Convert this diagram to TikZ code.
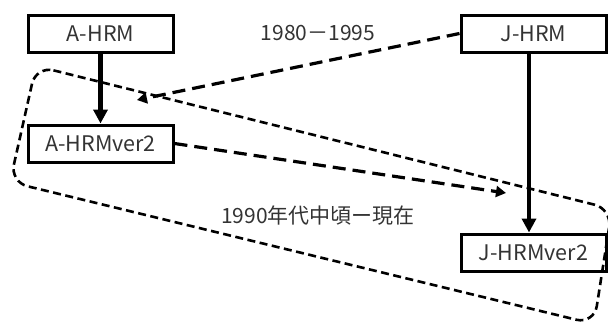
\documentclass[tikz,border=0pt]{standalone}
\usepackage{fontspec}
\setmainfont{Noto Sans CJK JP}
\usetikzlibrary{arrows.meta}
\begin{document}
\begin{tikzpicture}[x=1pt,y=-1pt,
  model/.style={draw=black,line width=3pt,minimum width=145pt,minimum height=37pt,
    inner sep=0pt,font=\fontsize{21.5}{24}\selectfont,text=black!80},
  solidarrow/.style={line width=4.3pt,-{Triangle[length=14pt,width=14pt]}},
  dasharrow/.style={line width=3.2pt,dash pattern=on 13pt off 7pt,
    -{Triangle[length=10pt,width=11pt]}},
  period/.style={line width=2.6pt,dash pattern=on 8pt off 4.5pt,rounded corners=18pt},
  label/.style={font=\fontsize{21}{24}\selectfont,text=black!80}]
\useasboundingbox (0,0) rectangle (608,322);

% the period boundary
\draw[period] (36,66) -- (612,209) -- (594,324) -- (10,182) -- cycle;

% models
\node[model] (ahrm)  at (100.5,33.5)  {A-HRM};
\node[model] (ahrm2) at (100.5,143.5) {A-HRMver2};
\node[model] (jhrm)  at (533.5,33.5)  {J-HRM};
\node[model] (jhrm2) at (533.5,252.5) {J-HRMver2};

% arrow targets
\coordinate (t1) at (137,100);
\coordinate (t2) at (506,193);

% connectors
\draw[solidarrow] (ahrm.south) -- (ahrm2.north);
\draw[solidarrow] (jhrm.south -| 529,0) -- (jhrm2.north -| 529,0);
\draw[dasharrow] (jhrm.west) -- (t1);
\draw[dasharrow] (ahrm2.east) -- (t2);

% period labels
\node[label] (p1) at (318,33) {1980－1995};
\node[label] (p2) at (318,216) {1990年代中頃ー現在};
\end{tikzpicture}
\end{document}
